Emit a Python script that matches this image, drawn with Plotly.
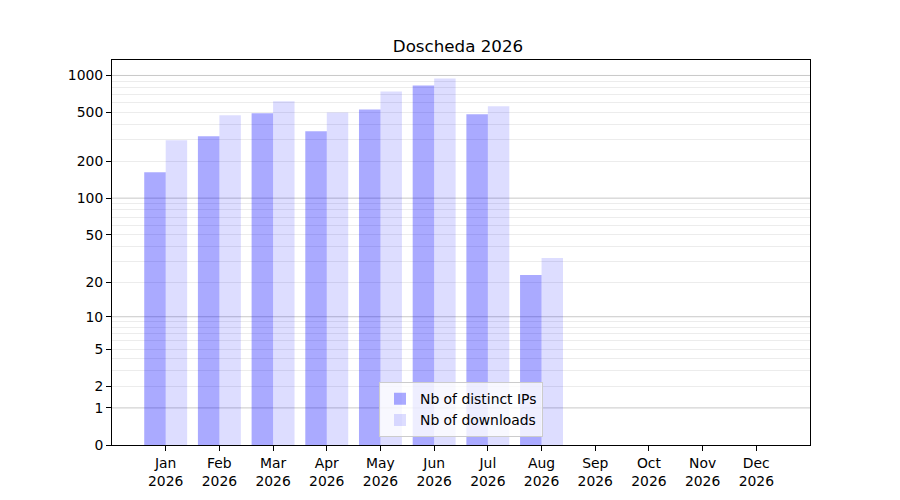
import numpy as np
import plotly.graph_objects as go

months = ["Jan", "Feb", "Mar", "Apr", "May", "Jun", "Jul", "Aug", "Sep", "Oct", "Nov", "Dec"]
year = "2026"
distinct_ips = [163, 320, 492, 351, 530, 830, 483, 23, 0, 0, 0, 0]
downloads = [297, 474, 616, 501, 742, 946, 561, 32, 0, 0, 0, 0]

label_ticks = [0, 1, 2, 5, 10, 20, 50, 100, 200, 500, 1000]
major_grid = [1, 10, 100, 1000]
minor_grid = [m * d for d in (1, 10, 100) for m in range(2, 10)]


def scale(v):
    # symlog-like: log10(1 + v)
    return np.log10(1 + np.asarray(v, dtype=float))


x = list(range(len(months)))
font = "DejaVu Sans"

fig = go.Figure()
fig.add_trace(go.Bar(x=x, y=scale(distinct_ips), name="Nb of distinct IPs",
                     marker=dict(color="rgba(0,0,255,0.333)", line=dict(width=0))))
fig.add_trace(go.Bar(x=x, y=scale(downloads), name="Nb of downloads",
                     marker=dict(color="rgba(0,0,255,0.133)", line=dict(width=0))))

for g in major_grid:
    fig.add_shape(type="line", xref="paper", x0=0, x1=1, yref="y",
                  y0=float(scale(g)), y1=float(scale(g)),
                  line=dict(color="rgb(200,200,200)", width=1), layer="below")

# page body has an 8px margin, so margins are shifted to compensate
fig.update_layout(
    width=900, height=500,
    margin=dict(l=104, r=98, t=52, b=63),
    paper_bgcolor="white", plot_bgcolor="white",
    font=dict(family=font, size=13.9, color="black"),
    title=dict(text="Doscheda 2026", x=0.5, xanchor="center", y=0.924, yanchor="middle",
               font=dict(size=16.7, family=font, color="black")),
    barmode="group", bargap=0.2, bargroupgap=0,
    showlegend=True,
    legend=dict(x=0.5, xanchor="center", y=0.02, yanchor="bottom",
                bgcolor="rgba(255,255,255,0.8)", bordercolor="#cccccc", borderwidth=1,
                traceorder="normal", tracegroupgap=0,
                font=dict(size=13.9, family=font)),
)

fig.update_xaxes(
    range=[-1, 12], tickvals=x, ticktext=[f"{m}<br>{year}" for m in months],
    showgrid=False, zeroline=False,
    showline=True, linecolor="black", linewidth=1, mirror=True,
    ticks="outside", ticklen=5, tickcolor="black",
)
fig.update_yaxes(
    range=[0, 3.126], tickvals=scale(label_ticks), ticktext=[str(t) for t in label_ticks],
    showgrid=False, zeroline=False,
    showline=True, linecolor="black", linewidth=1, mirror=True,
    ticks="outside", ticklen=5, tickcolor="black",
    minor=dict(tickvals=scale(minor_grid), showgrid=True, gridcolor="rgb(236,236,236)",
               gridwidth=1, ticks=""),
)

fig.write_html("out.html")
